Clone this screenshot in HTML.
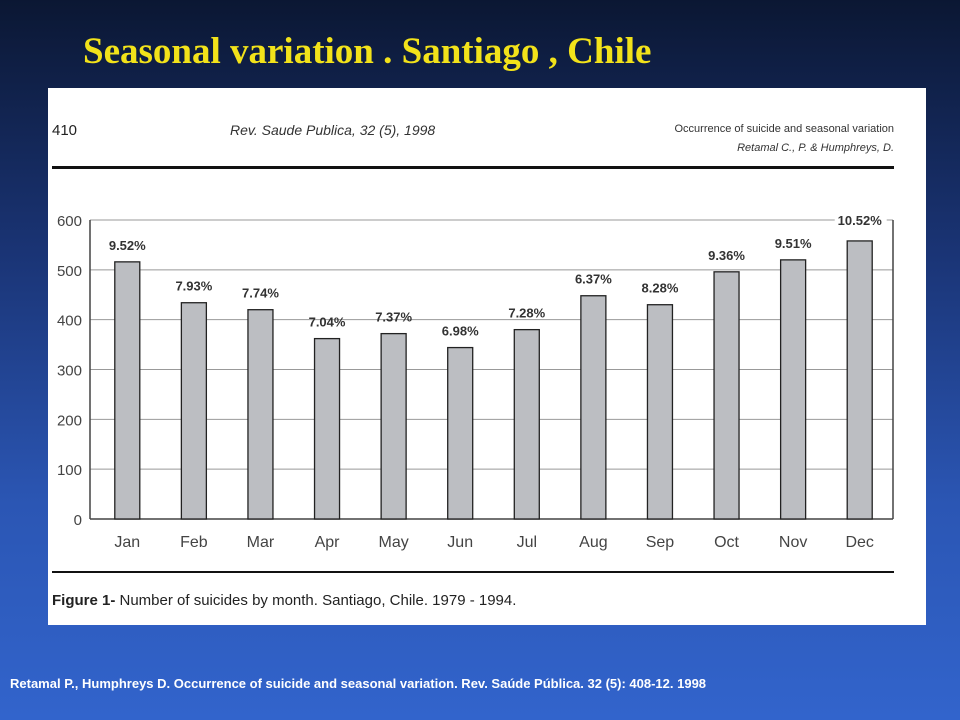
<!DOCTYPE html>
<html><head><meta charset="utf-8"><style>
body{margin:0;width:960px;height:720px;overflow:hidden;background:linear-gradient(#0b1733 0%,#1a3475 35%,#2b56b4 70%,#3264cc 100%);font-family:"Liberation Sans",sans-serif;position:relative}
#title{position:absolute;left:83px;top:30px;font:bold 37px "Liberation Serif",serif;color:#f2e21a;white-space:nowrap}
#panel{position:absolute;left:48px;top:88px;width:878px;height:537px;background:#fff}
#foot{position:absolute;left:10px;top:676px;font:bold 13px "Liberation Sans",sans-serif;color:#fff;white-space:nowrap}
</style></head><body>
<div id="title">Seasonal variation . Santiago , Chile</div>
<div id="panel"></div>
<svg id="chart" width="960" height="720" style="position:absolute;left:0;top:0" font-family="Liberation Sans Narrow, Liberation Sans, sans-serif">
<text x="52" y="135" font-size="15" fill="#222">410</text>
<text x="230" y="135" font-size="14" font-style="italic" fill="#333">Rev. Saude Publica, 32 (5), 1998</text>
<text x="894" y="132" font-size="11" fill="#333" text-anchor="end">Occurrence of suicide and seasonal variation</text>
<text x="894" y="151" font-size="11" font-style="italic" fill="#333" text-anchor="end">Retamal C., P. &amp; Humphreys, D.</text>
<rect x="52" y="166" width="842" height="3" fill="#111"/>
<rect x="52" y="571" width="842" height="2" fill="#111"/>
<text x="52" y="605" font-size="15" fill="#222"><tspan font-weight="bold">Figure 1-</tspan> Number of suicides by month. Santiago, Chile. 1979 - 1994.</text>
<g id="grid"></g><g id="bars"></g>
</svg>
<div id="foot">Retamal P., Humphreys D. Occurrence of suicide and seasonal variation. Rev. Saúde Pública.  32 (5): 408-12. 1998</div>
<script>
const categories=["Jan","Feb","Mar","Apr","May","Jun","Jul","Aug","Sep","Oct","Nov","Dec"];
const values=[516,434,420,362,372,344,380,448,430,496,520,558];
const pctLabels=["9.52%","7.93%","7.74%","7.04%","7.37%","6.98%","7.28%","6.37%","8.28%","9.36%","9.51%","10.52%"];
const yTicks=[0,100,200,300,400,500,600];
const NS="http://www.w3.org/2000/svg";
const x0=94,x1=893,y0=519,y1=220,yMax=600;
const step=(x1-x0)/categories.length;
const y=v=>y0-(v/yMax)*(y0-y1);
const xc=i=>x0+(i+0.5)*step;
function mk(t,a,p,txt){const e=document.createElementNS(NS,t);for(const k in a)e.setAttribute(k,a[k]);if(txt!=null)e.textContent=txt;p.appendChild(e);return e;}
const g=document.getElementById('grid'),b=document.getElementById('bars');
yTicks.forEach(t=>{
 const l=mk('line',{x1:90,x2:x1,y1:y(t),y2:y(t),stroke:t===0?'#444':'#999','stroke-width':t===0?1.5:1},g);
 
 
 const tx=mk('text',{x:82,y:y(t)+6,'font-size':15,fill:'#444','text-anchor':'end'},g,String(t));
 
 
});
const ax=mk('line',{x1:90,x2:90,y1:y1,y2:y0,stroke:'#444','stroke-width':1.5},g);


const rx=mk('line',{x1:x1,x2:x1,y1:y1,y2:y0,stroke:'#444','stroke-width':1.5},g);


categories.forEach((c,i)=>{
 const r=mk('rect',{x:xc(i)-12.5,y:y(values[i]),width:25,height:y0-y(values[i]),fill:'#bcbec2',stroke:'#222','stroke-width':1.3},b);
 
 
 const lb=mk('text',{x:xc(i),y:y(values[i])-12,'font-size':13,'font-weight':'bold',fill:'#333','text-anchor':'middle'},b,pctLabels[i]);
 if(i===11){lb.setAttribute('y',y1+5);lb.setAttribute('fill','#333');const bg=mk('rect',{x:xc(i)-25,y:y1-8,width:52,height:14,fill:'#fff'},b);b.insertBefore(bg,lb);}
 
 
 const xl=mk('text',{x:xc(i),y:547,'font-size':16,fill:'#444','text-anchor':'middle'},b,c);
 
 
});
</script>
</body></html>
